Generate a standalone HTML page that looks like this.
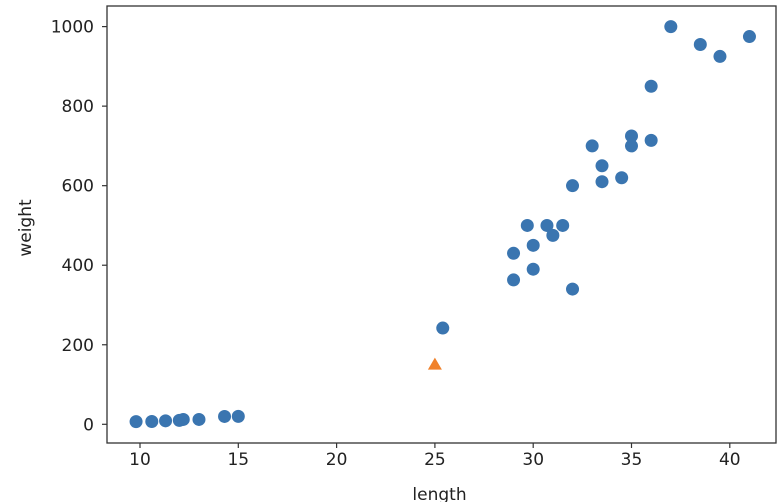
<!DOCTYPE html>
<html><head><meta charset="utf-8"><style>
body{margin:0;background:#fff;}
svg{display:block;font-family:"DejaVu Sans","Liberation Sans",sans-serif;}
</style></head><body>
<svg id="chart" width="784" height="502"></svg>
<script>
const trainLength=[9.8,10.6,11.3,12.0,12.2,13.0,14.3,15.0,25.4,29.0,29.0,29.7,30.0,30.0,30.7,31.0,31.5,32.0,32.0,33.0,33.5,33.5,34.5,35.0,35.0,36.0,36.0,37.0,38.5,39.5,41.0];
const trainWeight=[6.7,7.0,8.7,9.8,12.2,12.2,19.7,19.9,242,363,430,500,450,390,500,475,500,340,600,700,650,610,620,725,700,850,714,1000,955,925,975];
const newLength=[25];
const newWeight=[150];
const xTicks=[10,15,20,25,30,35,40];
const yTicks=[0,200,400,600,800,1000];
const L=107,R=776,T=6,B=443;
const sx=v=>140+(v-10)*19.66;
const sy=v=>424.3-v*0.3977;
const svg=document.getElementById('chart');
const NS='http://www.w3.org/2000/svg';
function mk(t,a){const e=document.createElementNS(NS,t);for(const k in a)e.setAttribute(k,a[k]);svg.appendChild(e);return e;}
const frame=mk('rect',{x:L,y:T,width:R-L,height:B-T,fill:'none',stroke:'#333','stroke-width':1.3});


xTicks.forEach(v=>{
  const x=sx(v);
  const t=mk('line',{x1:x,x2:x,y1:B,y2:B+5,stroke:'#333','stroke-width':1.2});
  
  
  const l=mk('text',{x:x,y:B+22,'text-anchor':'middle','font-size':17,fill:'#222'});
  l.textContent=v;
  
  
});
yTicks.forEach(v=>{
  const y=sy(v);
  const t=mk('line',{x1:L-5,x2:L,y1:y,y2:y,stroke:'#333','stroke-width':1.2});
  
  
  const l=mk('text',{x:L-13,y:y+6,'text-anchor':'end','font-size':17,fill:'#222'});
  l.textContent=v;
  
  
});
trainLength.forEach((v,i)=>{
  const c=mk('circle',{cx:sx(v),cy:sy(trainWeight[i]),r:6.5,fill:'#3a75b0'});
  
  
});
newLength.forEach((v,i)=>{
  const x=sx(v),y=sy(newWeight[i]);
  const p=mk('polygon',{points:`${x},${y-7} ${x-7},${y+5} ${x+7},${y+5}`,fill:'#f0812a'});
  
  
});
const xl=mk('text',{x:(L+R)/2-2,y:500,'text-anchor':'middle','font-size':17,fill:'#222'});
xl.textContent='length';


const yl=mk('text',{x:0,y:0,'text-anchor':'middle','font-size':17,fill:'#222',transform:`translate(31,228) rotate(-90)`});
yl.textContent='weight';


</script>
</body></html>
